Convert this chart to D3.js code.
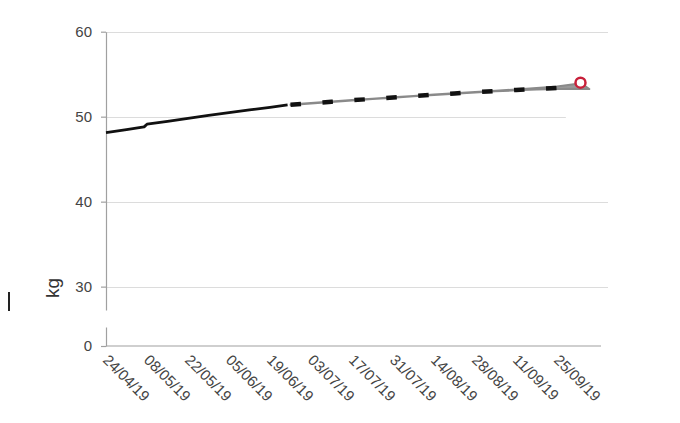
<!DOCTYPE html>
<html>
<head>
<meta charset="utf-8">
<script src="https://cdn.jsdelivr.net/npm/d3@7"></script>
<style>
  html, body { margin: 0; padding: 0; background: #fff; }
  svg { display: block; font-family: "Liberation Sans", Arial, sans-serif; }
</style>
</head>
<body>
<svg id="chart" width="680" height="423"></svg>
<script>
// ---- data ----
const tickLabels = ["24/04/19","08/05/19","22/05/19","05/06/19","19/06/19","03/07/19",
                    "17/07/19","31/07/19","14/08/19","28/08/19","11/09/19","25/09/19"];
const yTicksUpper = [30, 40, 50, 60];
const yTicksLower = [0];

const actualDates = ["24/04/19","01/05/19","07/05/19","08/05/19","15/05/19","22/05/19",
                     "29/05/19","05/06/19","12/06/19","19/06/19","25/06/19"];
const actualKg    = [48.12, 48.47, 48.80, 49.12, 49.45, 49.80,
                     50.15, 50.48, 50.80, 51.10, 51.38];

const projDates = ["26/06/19","03/07/19","10/07/19","17/07/19","24/07/19","31/07/19","07/08/19",
                   "14/08/19","21/08/19","28/08/19","04/09/19","11/09/19","18/09/19","25/09/19","02/10/19"];
const projMid  = [51.40, 51.58, 51.76, 51.93, 52.10, 52.26, 52.42,
                  52.58, 52.73, 52.88, 53.02, 53.15, 53.27, 53.38, 53.48];
const projHigh = [51.42, 51.60, 51.78, 51.95, 52.12, 52.28, 52.44,
                  52.60, 52.76, 52.91, 53.06, 53.21, 53.37, 53.56, 53.88];
const projLow  = [51.38, 51.56, 51.74, 51.91, 52.08, 52.24, 52.40,
                  52.56, 52.71, 52.85, 52.98, 53.10, 53.19, 53.26, 53.30];
const highEndDate = "03/10/19", highEndKg = 54.0;   // target (red circle)
const lowEndDate  = "06/10/19", lowEndKg  = 53.25;

const domainStart = "24/04/19", domainEnd = "10/10/19";
const unitLabel = "kg";

// ---- setup ----
const parse = d3.timeParse("%d/%m/%y");
const svg = d3.select("#chart");

const x = d3.scaleTime().domain([parse(domainStart), parse(domainEnd)]).range([106, 601]);
const yU = d3.scaleLinear().domain([27.25, 60]).range([310, 31.7]);   // upper (broken) segment
const yL = d3.scaleLinear().domain([0, 2.25]).range([346, 327]);      // lower stub with 0

const gridColor = "#dcdcdc", axisColor = "#a0a0a0", textColor = "#444";

// gridlines
svg.append("g").selectAll("line").data(yTicksUpper).join("line")
  .attr("x1", x.range()[0])
  .attr("x2", d => d === 50 ? x(parse("28/09/19")) : x.range()[1] + 7)
  .attr("y1", d => Math.round(yU(d)) + 0.5)
  .attr("y2", d => Math.round(yU(d)) + 0.5)
  .attr("stroke", gridColor).attr("stroke-width", 1);

// y axis upper
const axU = svg.append("g").attr("transform", `translate(${x.range()[0]},0)`)
  .call(d3.axisLeft(yU).tickValues(yTicksUpper).tickFormat(d3.format("d"))
    .tickSizeInner(5).tickSizeOuter(0).tickPadding(9));
// y axis lower
const axL = svg.append("g").attr("transform", `translate(${x.range()[0]},0)`)
  .call(d3.axisLeft(yL).tickValues(yTicksLower).tickFormat(d3.format("d"))
    .tickSizeInner(5).tickSizeOuter(0).tickPadding(9));
[axU, axL].forEach(g => {
  g.selectAll("path, line").attr("stroke", axisColor).attr("stroke-width", 1.2);
  g.selectAll("text").attr("fill", textColor).style("font-size", "15px")
    .style("font-family", '"Liberation Sans", Arial, sans-serif');
});

// x axis line
svg.append("line")
  .attr("x1", x.range()[0]).attr("x2", x.range()[1])
  .attr("y1", yL(0)).attr("y2", yL(0))
  .attr("stroke", axisColor).attr("stroke-width", 1.2);

// x tick labels (rotated)
svg.append("g").selectAll("text").data(tickLabels).join("text")
  .attr("transform", d => `translate(${x(parse(d)) - 4},${yL(0) + 15}) rotate(45)`)
  .attr("text-anchor", "start")
  .attr("fill", textColor)
  .style("font-size", "15px")
  .text(d => d);

// unit label
svg.append("text")
  .attr("transform", `translate(59,288) rotate(-90)`)
  .attr("text-anchor", "middle")
  .attr("fill", "#333")
  .style("font-size", "19px")
  .text(unitLabel);

// small legend bar at left
svg.append("rect").attr("x", 8).attr("y", 292).attr("width", 2).attr("height", 19).attr("fill", "#222");

// actual line
const line = d3.line().x(d => x(d[0])).y(d => yU(d[1]));
svg.append("path")
  .datum(actualDates.map((d, i) => [parse(d), actualKg[i]]))
  .attr("d", line)
  .attr("fill", "none").attr("stroke", "#111").attr("stroke-width", 2.8)
  .attr("stroke-linejoin", "round");

// projection band
const upper = projDates.map((d, i) => [parse(d), projHigh[i]]).concat([[parse(highEndDate), highEndKg]]);
const lower = projDates.map((d, i) => [parse(d), projLow[i]]).concat([[parse(lowEndDate), lowEndKg]]);
svg.append("path")
  .datum(upper.concat(lower.slice().reverse()))
  .attr("d", d => line(d) + "Z")
  .attr("fill", "#9a9a9a").attr("stroke", "#8a8a8a").attr("stroke-width", 2)
  .attr("stroke-linejoin", "round");

// dashed projection mid line
svg.append("path")
  .datum(projDates.map((d, i) => [parse(d), projMid[i]]))
  .attr("d", line)
  .attr("fill", "none").attr("stroke", "#111").attr("stroke-width", 4.5)
  .attr("stroke-dasharray", "10.5,21.5").attr("stroke-linecap", "butt");

// target circle
svg.append("circle")
  .attr("cx", x(parse(highEndDate))).attr("cy", yU(highEndKg)).attr("r", 5)
  .attr("fill", "#fff").attr("stroke", "#c8203a").attr("stroke-width", 2.5);
</script>
</body>
</html>
